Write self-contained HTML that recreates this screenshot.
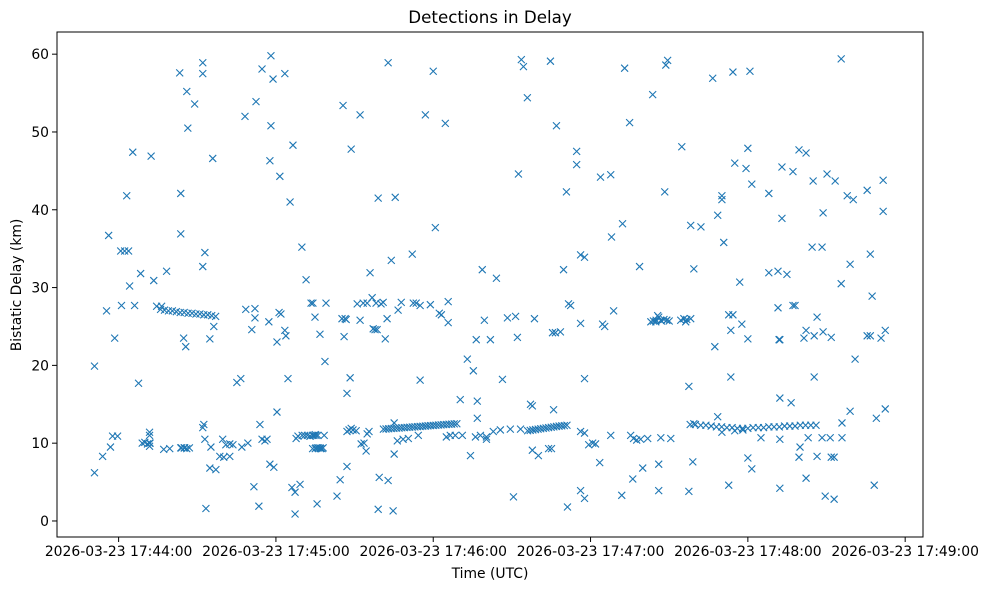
<!DOCTYPE html>
<html><head><meta charset="utf-8"><style>
html,body{margin:0;padding:0;background:#fff;}
svg{display:block;font-family:"DejaVu Sans","Liberation Sans",sans-serif;}
</style></head><body>
<svg id="chart" width="988" height="590" viewBox="0 0 988 590" xmlns="http://www.w3.org/2000/svg">
<rect x="0" y="0" width="988" height="590" fill="#fff"/>
<text x="490" y="23" font-size="16.7" text-anchor="middle" fill="#000">Detections in Delay</text>
<g id="marks"></g>
<rect x="57" y="32" width="866" height="505" fill="none" stroke="#000" stroke-width="1"/>
<g id="xticks"></g>
<g id="yticks"></g>
<text x="490" y="578" font-size="13.9" text-anchor="middle">Time (UTC)</text>
<text x="21" y="285" font-size="13.9" text-anchor="middle" transform="rotate(-90 21 285)">Bistatic Delay (km)</text>
</svg>
<script>
// seconds after 17:44:00
const xTickValues=[0,60,120,180,240,300];
const xTickLabels=["2026-03-23 17:44:00","2026-03-23 17:45:00","2026-03-23 17:46:00","2026-03-23 17:47:00","2026-03-23 17:48:00","2026-03-23 17:49:00"];
const yTickValues=[0,10,20,30,40,50,60];
const yTickLabels=["0","10","20","30","40","50","60"];
const times=[-9.2,-9.2,-6.1,-4.6,-3.8,-3.1,-2.3,-1.5,-0.4,0.8,1.1,2.3,3.1,3.8,4.2,5.4,6.1,7.6,8.4,11.8,11.8,11.8,11.8,12.4,13.4,14.5,16.4,17.2,18.3,19.5,23.3,23.7,23.7,23.7,25.2,24.8,25.6,26,26.4,29,32.1,32.1,32.5,32.1,32.1,32.9,33.3,32.9,34.8,34.8,35.2,35.9,36.3,37.1,38.6,39.7,40.1,40.9,42.4,42.4,43.6,45.1,46.6,47,48.2,48.5,49.3,50.8,52,52,52.4,51.6,53.5,53.9,54.7,54.7,55.8,56.6,57.3,57.7,57.7,58.1,58.1,58.9,59.2,60.4,60.4,61.2,61.5,61.9,
63.4,63.4,63.8,64.6,65.4,66.1,66.5,67.3,67.7,67.3,68.4,69.2,69.9,71.5,73,73.4,74.1,74.5,74.9,75.3,75.3,75.7,76.1,76.8,76.8,77.6,78.4,78.7,79.1,83.3,84.5,85.6,85.2,86,86.4,86.8,87.1,87.1,87.1,87.9,88.7,88.7,88.3,89.4,90.6,91,92.1,92.1,92.5,93.3,93.6,94.8,94.4,94.8,95.5,95.9,97.1,96.7,97.8,98.2,99,99,99.4,98.6,100.1,100.9,101.7,102.8,102.4,102.8,104,104.7,105.1,105.5,105.1,106.3,106.6,107.8,108.5,110.5,112,112.4,113.5,114.3,115,115,117,118.9,120,120.8,122.3,123.1,124.6,125,125.7,125.7,126.5,128.4,130.3,131.1,133,134.2,135.3,136.1,136.4,136.8,136.8,138,138.7,139.5,140.3,140.3,141.8,142.9,144.1,145.6,146.4,148.3,149.4,150.6,151.4,152.5,152.1,153.3,153.6,154.4,
155.9,157.1,157.8,157.8,158.6,160.1,164.7,167,165.5,166.6,168.5,165.9,165.1,164,171.2,169.7,170.8,172.4,171.6,176.2,174.7,174.7,176.2,177.7,177.7,177.7,176.2,177.7,176.2,179.3,180.8,181.9,183.5,183.8,187.7,184.6,185.4,187.7,188,188.8,191.9,192.2,193,194.9,195.3,196.1,196.4,197.6,199.1,198.7,199.9,201.8,203.7,206,205.6,204.9,206.8,206,206.8,208.3,208.7,209.4,209.1,210.6,214.4,214.8,215.6,216.3,217.5,216.7,217.5,218.2,218.2,219,219.4,219.4,
222.1,226.6,234.3,240.8,275.6,235,239.3,240,241.5,230.1,230.1,228.5,230.8,248,253,253,259.5,262.2,257.2,264.9,270.2,273.3,268.7,277.9,280.2,285.5,291.6,291.6,
264.5,268.3,279,286.7,287.4,275.6,248,251.5,254.9,236.9,251.5,257.2,258,266.4,232.7,234.3,233.5,237.7,240,227.4,
251.9,252.2,261.4,262.2,265.3,268.7,271.8,280.9,285.5,286.7,290.8,292.4,
233.5,265.3,252.2,256.5,279,275.9,289,292.4,228.5,
230.1,235,238.1,245,252.2,259.9,263,268.3,271.4,275.9,
240,241.5,259.5,266.4,271.8,272.9,232.7,252.2,262.2,269.5,272.9,288.2,
16,17.5,19,20.5,22,23.5,25,26.5,28,29.5,31,32.5,34,35.5,37,
101,102,103,104,105,106,107,108,109,110,111,112,113,114,115,116,117,118,119,120,121,122,123,124,125,126,127,128,129,
156,157,158,159,160,161,162,163,164,165,166,167,168,169,170,171,
218,220,222,224,226,228,230,232,234,236,238,240,242,244,246,248,250,252,254,256,258,260,262,264,266,
203,204,205,206,207,208,209,210,
70,71,72,73,74,75,76,74,75,76,77,78,
9,10,11,12,24,25,26,27];
const delays=[6.2,19.9,8.3,27,36.7,9.5,10.9,23.5,10.9,34.7,27.7,34.7,41.8,34.7,30.2,47.4,27.7,17.7,31.8,9.6,11.4,11,10,46.9,30.9,27.6,27.6,9.2,32.1,9.3,57.6,42.1,36.9,9.4,9.4,23.5,22.4,55.2,50.5,53.6,58.9,57.5,12.4,12,32.7,34.5,1.6,10.5,6.8,23.4,9.5,46.6,25,6.6,8.3,10.5,8.2,9.8,9.9,8.3,9.8,17.8,18.3,9.5,52,27.2,10,24.6,26.1,27.3,53.9,4.4,1.9,12.4,10.5,58.1,10.3,10.5,25.6,7.3,46.3,50.8,59.8,56.8,6.9,14,23,26.8,44.3,26.6,
57.5,24.5,23.8,18.3,41,4.3,48.3,3.7,10.6,0.9,10.9,4.7,35.2,31,10.9,28,28,11,26.2,11,9.4,2.2,9.4,9.4,24,9.3,11,20.5,28,3.2,5.3,53.4,26,23.7,26,25.9,11.5,16.4,7,11.7,11.9,47.8,18.4,11.7,11.6,27.9,52.2,25.8,9.9,28,10,11.2,9,28,11.5,31.9,24.7,28.7,24.6,28,1.5,41.5,5.6,24.6,27.9,28.1,23.4,58.9,26,5.2,33.5,1.3,12.6,41.6,8.6,10.3,27.1,28.1,10.5,10.6,34.3,28,28,11,18.1,27.7,52.2,27.8,57.8,37.7,26.7,26.5,51.1,10.8,28.2,25.5,11,11,15.6,11,20.8,8.4,19.3,10.8,23.3,15.4,13.2,11,32.3,25.8,10.8,10.5,23.3,11.5,31.2,11.7,18.2,26.1,11.8,3.1,26.3,44.6,23.6,11.8,59.3,58.4,
54.4,15,9.1,14.8,26,8.4,59.1,50.8,24.2,24.2,24.3,14.3,9.3,9.3,1.8,32.3,42.3,27.7,27.9,25.4,45.8,47.5,34.2,33.9,18.3,11.3,3.9,2.9,11.5,9.8,10,9.9,7.5,44.2,44.5,25.3,25,11,36.5,27,3.3,38.2,58.2,51.2,11,5.4,10.6,10.4,10.5,32.7,6.8,10.6,54.8,3.9,26.4,25.6,25.8,7.3,10.7,42.3,58.6,59.2,25.8,10.6,25.8,48.1,26,25.6,3.8,25.9,17.3,26,38,7.6,32.4,12.5,
37.8,56.9,57.7,57.8,59.4,46,45.3,47.9,43.3,41.8,41.3,39.3,35.8,42.1,38.9,45.5,47.7,47.3,44.9,43.7,44.6,43.7,39.6,41.8,41.3,42.5,43.8,39.8,
35.2,35.2,33,34.3,28.9,30.5,31.9,32.1,31.7,30.7,27.4,27.7,27.7,26.2,26.5,26.5,24.5,25.3,23.4,22.4,
23.3,23.3,23.5,24.5,23.8,24.3,23.6,20.8,23.8,23.8,23.5,24.5,
18.5,18.5,15.8,15.2,14.1,12.6,13.2,14.4,13.4,
11.4,11.6,11.7,10.7,10.5,9.5,10.7,10.7,10.7,10.7,
8.1,6.7,8.2,8.3,8.2,8.2,4.6,4.2,5.5,3.2,2.8,4.6,
27.2,27.1,27,27,26.9,26.8,26.8,26.7,26.7,26.6,26.6,26.5,26.5,26.4,26.3,
11.8,11.83,11.85,11.88,11.9,11.93,11.95,11.98,12,12.03,12.05,12.08,12.1,12.13,12.15,12.18,12.2,12.23,12.25,12.28,12.3,12.33,12.35,12.38,12.4,12.43,12.45,12.48,12.5,
11.6,11.65,11.7,11.75,11.8,11.85,11.9,11.95,12,12.05,12.1,12.15,12.2,12.22,12.25,12.3,
12.4,12.4,12.3,12.3,12.2,12.1,12.1,12,12,11.9,11.9,11.9,12,12,12,12.1,12.1,12.1,12.2,12.2,12.2,12.3,12.3,12.3,12.3,
25.6,25.7,25.8,26.2,25.7,25.9,25.8,25.7,
11,11,11,10.9,11,11.1,11,9.3,9.3,9.4,9.3,9.4,
10,10.1,9.9,10,9.4,9.4,9.3,9.4];
const NS="http://www.w3.org/2000/svg";
const X0=57,X1=923,Y0=537,Y1=32;
const tMin=-23.5,tMax=306.8,dMin=-2.06,dMax=62.85;
function xs(t){return X0+(t-tMin)/(tMax-tMin)*(X1-X0);}
function ys(d){return Y0-(d-dMin)/(dMax-dMin)*(Y0-Y1);}
const marks=document.getElementById('marks');
for(let i=0;i<times.length&&i<delays.length;i++){
  const cx=xs(times[i]),cy=ys(delays[i]),r=3.5;
  const p=document.createElementNS(NS,'path');
  p.setAttribute('d',`M${cx-r},${cy-r}L${cx+r},${cy+r}M${cx-r},${cy+r}L${cx+r},${cy-r}`);
  p.setAttribute('stroke','#1f77b4');p.setAttribute('stroke-width','1.1');p.setAttribute('fill','none');
  
  
  marks.appendChild(p);
}
const xt=document.getElementById('xticks');
xTickValues.forEach((v,i)=>{
  const x=xs(v);
  const l=document.createElementNS(NS,'line');
  l.setAttribute('x1',x);l.setAttribute('x2',x);l.setAttribute('y1',Y0);l.setAttribute('y2',Y0+5);l.setAttribute('stroke','#000');
  
  
  xt.appendChild(l);
  const t=document.createElementNS(NS,'text');
  t.setAttribute('x',x);t.setAttribute('y',Y0+19);t.setAttribute('font-size','13.9');t.setAttribute('text-anchor','middle');
  t.textContent=xTickLabels[i];
  
  
  xt.appendChild(t);
});
const yt=document.getElementById('yticks');
yTickValues.forEach((v,i)=>{
  const y=ys(v);
  const l=document.createElementNS(NS,'line');
  l.setAttribute('x1',X0-5);l.setAttribute('x2',X0);l.setAttribute('y1',y);l.setAttribute('y2',y);l.setAttribute('stroke','#000');
  
  
  yt.appendChild(l);
  const t=document.createElementNS(NS,'text');
  t.setAttribute('x',X0-8);t.setAttribute('y',y+5);t.setAttribute('font-size','13.9');t.setAttribute('text-anchor','end');
  t.textContent=yTickLabels[i];
  
  
  yt.appendChild(t);
});
</script>
</body></html>
